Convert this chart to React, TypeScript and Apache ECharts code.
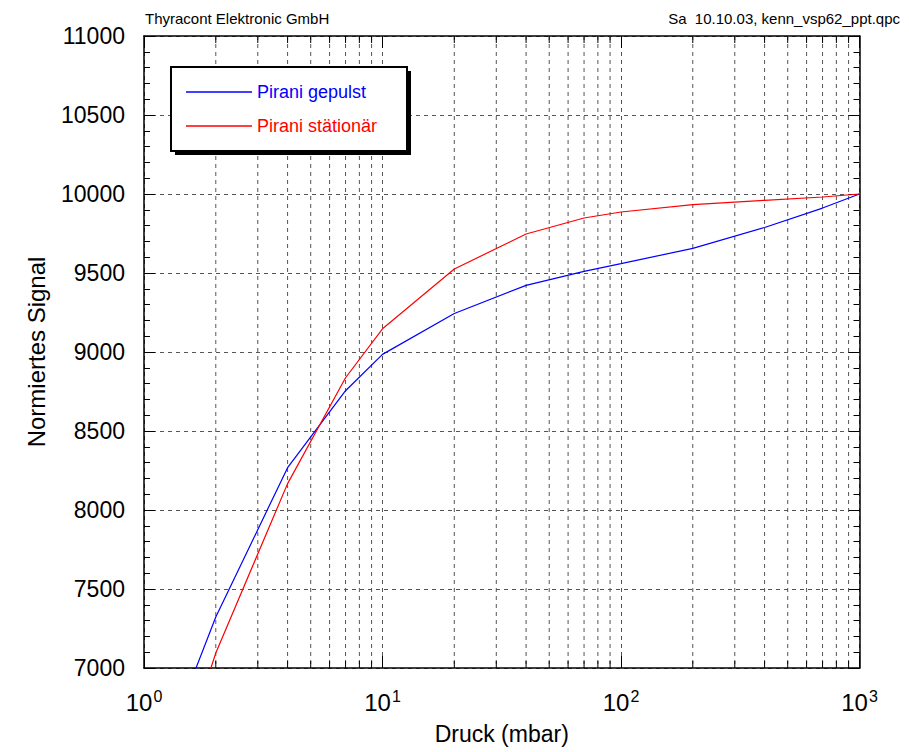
import React, { useEffect, useRef } from "react";
import * as echarts from "echarts";

const pressure = [1, 2, 4, 7, 10, 20, 40, 70, 100, 200, 400, 700, 1000];
const piraniGepulst = [6150, 7323, 8268, 8755, 8985, 9244, 9422, 9510, 9559, 9656, 9788, 9911, 10000];
const piraniStationaer = [5700, 7095, 8167, 8837, 9147, 9525, 9747, 9848, 9886, 9933, 9960, 9981, 10000];
const minorPressureTicks = [2, 3, 4, 5, 6, 7, 8, 9, 20, 30, 40, 50, 60, 70, 80, 90, 200, 300, 400, 500, 600, 700, 800, 900];
const seriesNames = ["Pirani gepulst", "Pirani stätionär"];
const yMin = 7000;
const yMax = 11000;
const yStep = 500;
const xMin = 1;
const xMax = 1000;

const FONT = "Liberation Sans, Arial, sans-serif";
const GRID_COLOR = "#555555";

export default function App() {
  const ref = useRef<HTMLDivElement>(null);
  useEffect(() => {
    if (!ref.current) return;
    const chart = echarts.init(ref.current, null, { renderer: "svg" });
    const yAxisCommon = {
      type: "value",
      min: yMin,
      max: yMax,
      interval: yStep,
      axisLine: { show: true, lineStyle: { color: "#000", width: 1.5 } },
      axisTick: { show: true, inside: true, length: 11, lineStyle: { color: "#000", width: 1 } },
      minorTick: { show: true, splitNumber: 5, length: 6, lineStyle: { color: "#000", width: 1 } },
    };
    const xAxisCommon = {
      type: "log",
      logBase: 10,
      min: xMin,
      max: xMax,
      splitNumber: 3,
      axisLine: { show: true, onZero: false, lineStyle: { color: "#000", width: 1.5 } },
      axisTick: { show: true, inside: true, length: 12, lineStyle: { color: "#000", width: 1 } },
    };
    const option: any = {
      animation: false,
      textStyle: { fontFamily: FONT },
      grid: { left: 144, right: 49.5, top: 36, bottom: 84, containLabel: false },
      xAxis: [
        {
          ...xAxisCommon,
          position: "bottom",
          name: "Druck (mbar)",
          nameLocation: "middle",
          nameGap: 54,
          nameTextStyle: { fontSize: 23, color: "#000", fontFamily: FONT },
          axisLabel: {
            show: true,
            margin: 20,
            formatter: (v: number) => `{a|10}{b|${Math.round(Math.log10(v))}}`,
            rich: {
              a: { fontSize: 24, color: "#000", fontFamily: FONT, lineHeight: 28 },
              b: { fontSize: 16, color: "#000", fontFamily: FONT, verticalAlign: "top", lineHeight: 18, padding: [0, 0, 0, 1] },
            },
          },
          splitLine: { show: true, lineStyle: { color: GRID_COLOR, type: [4, 4], width: 1 } },
        },
        {
          ...xAxisCommon,
          position: "top",
          axisLabel: { show: false },
          splitLine: { show: false },
        },
      ],
      yAxis: [
        {
          ...yAxisCommon,
          position: "left",
          name: "Normiertes Signal",
          nameLocation: "middle",
          nameGap: 96,
          nameTextStyle: { fontSize: 24, color: "#000", fontFamily: FONT },
          axisLabel: {
            show: true,
            margin: 19,
            fontSize: 23,
            color: "#000",
            fontFamily: FONT,
            formatter: (v: number) => String(v),
          },
          splitLine: { show: true, lineStyle: { color: GRID_COLOR, type: [4, 4], width: 1 } },
        },
        {
          ...yAxisCommon,
          position: "right",
          axisLabel: { show: false },
          splitLine: { show: false },
        },
      ],
      legend: {
        show: true,
        z: 100,
        zlevel: 0,
        orient: "vertical",
        left: 186,
        top: 82,
        itemWidth: 66,
        itemHeight: 1.5,
        itemGap: 14,
        icon: "rect",
        padding: 0,
        textStyle: { fontSize: 18, fontFamily: FONT, lineHeight: 20 },
        data: [
          { name: seriesNames[0], textStyle: { color: "#0000ff" } },
          { name: seriesNames[1], textStyle: { color: "#ff0000" } },
        ],
      },
      graphic: [
        {
          type: "rect",
          z: 20,
          shape: { x: 175, y: 71, width: 236, height: 84 },
          style: { fill: "#000" },
          silent: true,
        },
        {
          type: "rect",
          z: 21,
          shape: { x: 171, y: 67, width: 236, height: 84 },
          style: { fill: "#fff", stroke: "#000", lineWidth: 2 },
          silent: true,
        },
        {
          type: "text",
          left: 145,
          top: 11,
          style: { text: "Thyracont Elektronic GmbH", fontSize: 15, fill: "#000", fontFamily: FONT },
        },
        {
          type: "text",
          right: 9,
          top: 11,
          style: { text: "Sa  10.10.03, kenn_vsp62_ppt.qpc", fontSize: 15, fill: "#000", fontFamily: FONT },
        },
      ],
      series: [
        {
          type: "custom",
          name: "minorGrid",
          silent: true,
          z: 1,
          xAxisIndex: 0,
          yAxisIndex: 0,
          clip: true,
          data: minorPressureTicks.map((v) => [v, yMin]),
          renderItem: (params: any, api: any) => {
            const cs = params.coordSys;
            const x = api.coord([api.value(0), yMin])[0];
            const top = cs.y;
            const bottom = cs.y + cs.height;
            return {
              type: "group",
              children: [
                {
                  type: "line",
                  shape: { x1: x, y1: top, x2: x, y2: bottom },
                  style: { stroke: GRID_COLOR, lineWidth: 1, lineDash: [4, 4] },
                },
                {
                  type: "line",
                  shape: { x1: x, y1: bottom, x2: x, y2: bottom - 7 },
                  style: { stroke: "#000", lineWidth: 1 },
                },
                {
                  type: "line",
                  shape: { x1: x, y1: top, x2: x, y2: top + 7 },
                  style: { stroke: "#000", lineWidth: 1 },
                },
              ],
            };
          },
        },
        {
          type: "line",
          name: seriesNames[0],
          data: pressure.map((p, i) => [p, piraniGepulst[i]]),
          showSymbol: false,
          symbol: "none",
          clip: true,
          z: 5,
          color: "#0000ff",
          lineStyle: { color: "#0000ff", width: 1.2 },
        },
        {
          type: "line",
          name: seriesNames[1],
          data: pressure.map((p, i) => [p, piraniStationaer[i]]),
          showSymbol: false,
          symbol: "none",
          clip: true,
          z: 5,
          color: "#ff0000",
          lineStyle: { color: "#ff0000", width: 1.2 },
        },
      ],
    };
    chart.setOption(option);
    return () => chart.dispose();
  }, []);
  return (
    <div
      ref={ref}
      style={{ position: "absolute", left: 0, top: 0, width: 909, height: 752, background: "#fff" }}
    />
  );
}
